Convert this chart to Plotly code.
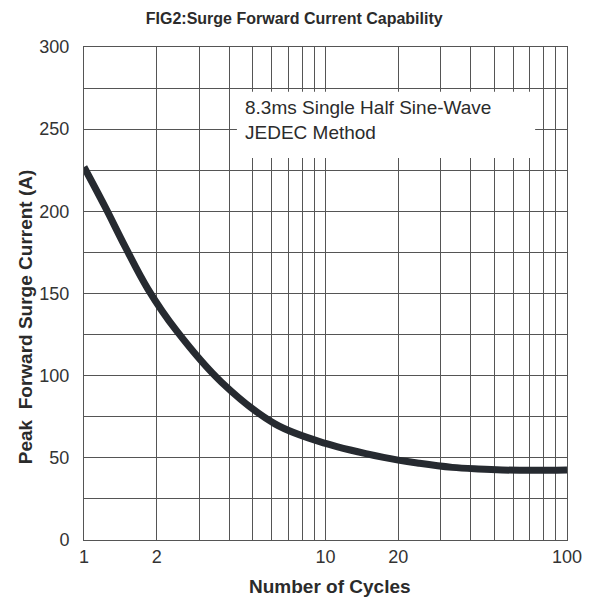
import plotly.graph_objects as go

# points
cycles = [1, 1.22, 1.48, 1.84, 2.42, 3.71, 6.2, 10, 17.4,
          24.5, 33.5, 42.9, 53.8, 72.7, 100]
peak_current = [227, 203, 178.5, 152.7, 127.2, 96, 70.5, 58.8, 50.3,
                46.7, 44.2, 43.2, 42.6, 42.4, 42.6]

x_grid = [1, 2, 3, 4, 5, 6, 7, 8, 9, 10, 20, 30, 40, 50, 60, 70, 80, 90, 100]
x_labels = ["1", "2", "", "", "", "", "", "", "", "10", "20",
            "", "", "", "", "", "", "", "100"]
y_ticks = [0, 50, 100, 150, 200, 250, 300]

note_lines = ["8.3ms Single Half Sine-Wave", "JEDEC Method"]

ink = "#262a30"
grid = "#555555"
font = "Liberation Sans, Arial, sans-serif"

fig = go.Figure()
fig.add_trace(go.Scatter(
    x=cycles, y=peak_current, mode="lines",
    line=dict(color=ink, width=7, shape="spline", smoothing=1.0),
    showlegend=False, hoverinfo="skip",
))

# white label box sitting over the grid
fig.add_shape(type="rect", xref="paper", yref="paper",
              x0=0.3166, x1=0.934, y0=0.775, y1=0.909,
              fillcolor="white", line=dict(width=0), layer="above")
fig.add_annotation(
    text="<br>".join(note_lines), xref="paper", yref="paper",
    x=0.329, y=0.851, xanchor="left", yanchor="middle", align="left",
    showarrow=False, font=dict(family=font, size=19, color="#2b2b2b"),
)

# axis titles placed by hand, the original is slightly off-centre
fig.add_annotation(
    text="<b>Peak  Forward Surge Current (A)</b>", xref="paper", yref="paper",
    x=-0.122, y=0.452, xanchor="center", yanchor="middle", textangle=-90,
    showarrow=False, font=dict(family=font, size=19, color="#2b2b2b"),
)
fig.add_annotation(
    text="<b>Number of Cycles</b>", xref="paper", yref="paper",
    x=0.509, y=-0.095, xanchor="center", yanchor="middle",
    showarrow=False, font=dict(family=font, size=19, color="#2b2b2b"),
)

fig.update_layout(
    width=592, height=602,
    margin=dict(l=84, r=25, t=47, b=62),
    paper_bgcolor="white", plot_bgcolor="white",
    font=dict(family=font, color="#2b2b2b"),
    title=dict(text="<b>FIG2:Surge Forward Current Capability</b>",
               x=0.497, xref="container", xanchor="center",
               y=0.97, yref="container", yanchor="middle",
               font=dict(size=16, color="#2b2b2b")),
    xaxis=dict(
        type="log", range=[0, 2], automargin=False,
        tickmode="array", tickvals=x_grid, ticktext=x_labels,
        showgrid=True, gridcolor=grid, gridwidth=1,
        showline=True, linecolor=grid, linewidth=1, mirror=True,
        ticks="", ticklen=0, tickfont=dict(size=18, color="#333333"),
        zeroline=False,
    ),
    yaxis=dict(
        range=[0, 300], automargin=False,
        tickmode="array", tickvals=y_ticks,
        showgrid=True, gridcolor=grid, gridwidth=1,
        minor=dict(dtick=25, showgrid=True, gridcolor=grid, gridwidth=1),
        showline=True, linecolor=grid, linewidth=1, mirror=True,
        ticks="", tickfont=dict(size=18, color="#333333"),
        ticklabelstandoff=10,
        zeroline=False,
    ),
)

# drop the default page margin so the figure sits at the window corner
fig.write_html("out.html", config={"displayModeBar": False},
               post_script="document.body.style.margin='0';")
